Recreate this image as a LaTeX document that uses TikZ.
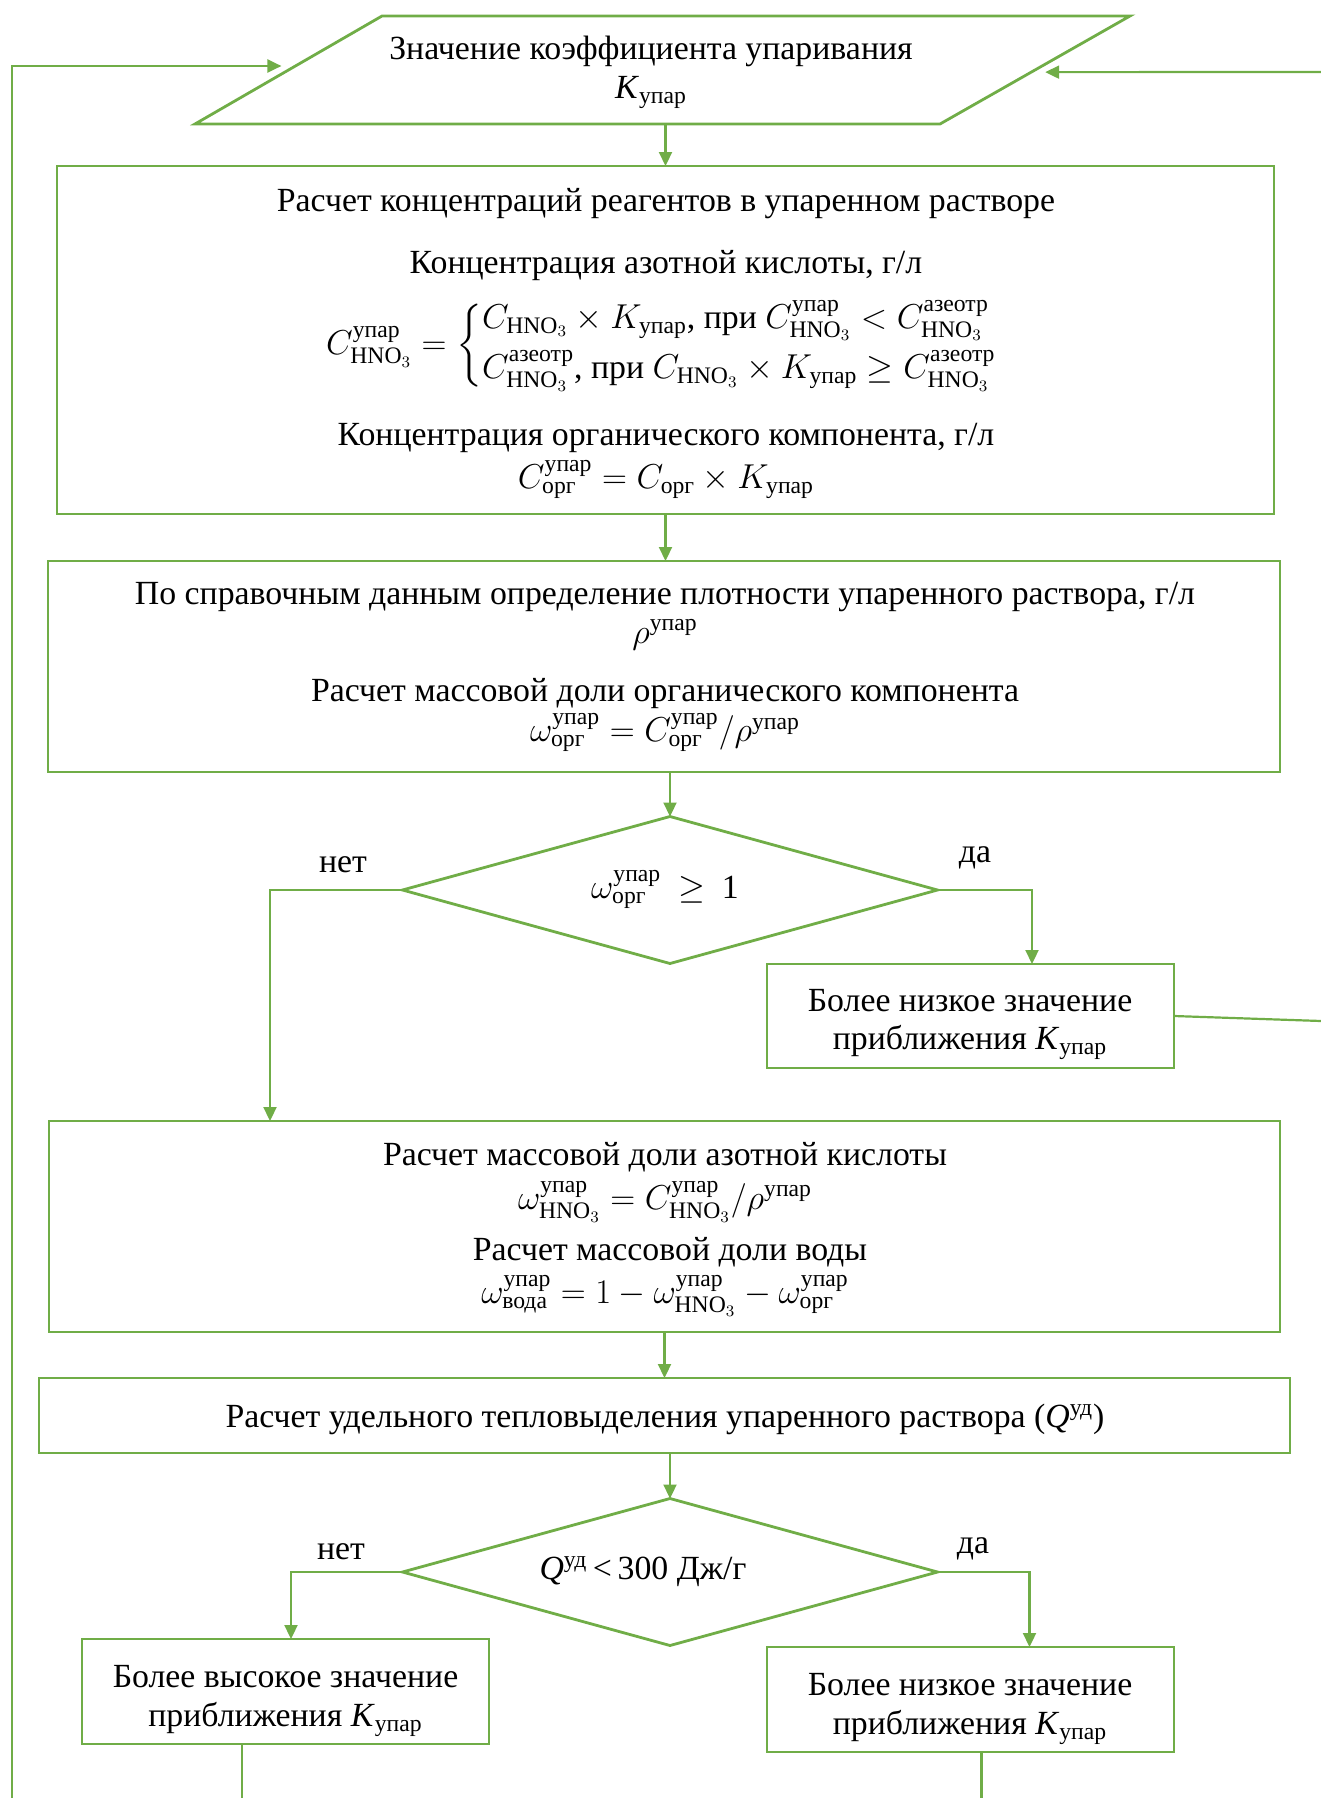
\documentclass[tikz,border=0pt]{standalone}
\usepackage{amsmath}
\usepackage{fontspec}
\setmainfont{Liberation Serif}
\usetikzlibrary{shapes.geometric,arrows.meta,calc}
\definecolor{gr}{HTML}{70AD47}
\newcommand\up{\text{упар}}
\newcommand\hno{\text{HNO}_3}
\newcommand\az{\text{азеотр}}
\newcommand\org{\text{орг}}
\newcommand\Kup{\textit{K}\textsubscript{упар}}
\tikzset{
  box/.style={draw=gr, line width=1.4pt, rectangle, inner sep=0pt, outer sep=0pt},
  dia/.style={draw=gr, line width=1.4pt, diamond, inner sep=0pt, outer sep=0pt, minimum width=267.5pt, minimum height=73.5pt},
  arr/.style={draw=gr, line width=1.1pt, -{Triangle[length=7pt,width=6.5pt]}},
  conn/.style={draw=gr, line width=1.1pt},
  txt/.style={inner sep=0pt, align=center, yshift=-1.8pt},
}
\begin{document}
\begin{tikzpicture}[x=0.5pt,y=-0.5pt,font=\fontsize{16.9pt}{20.3pt}\selectfont]
\useasboundingbox (0,0) rectangle (1321,1798);
% input parallelogram
\coordinate (pBL) at (195,124);
\coordinate (pBR) at (940,124);
\coordinate (pTR) at (1130,16);
\coordinate (pTL) at (382,16);
\draw[gr, line width=1.4pt, line join=miter] (pBL) -- (pBR) -- (pTR) -- (pTL) -- cycle;
\node[txt] (t0a) at (651,48) {Значение коэффициента упаривания};
\node[txt] (t0b) at (651,89) {\Kup};

% box 1
\node[box, minimum width=608.5pt, minimum height=174pt] (box1) at (665.5,340) {};
\node[txt] (b1t1) at (666,199.5) {Расчет концентраций реагентов в упаренном растворе};
\node[txt] (b1t2) at (666,262) {Концентрация азотной кислоты, г/л};
\node[txt] (b1e1) at (662,342) {$C^{\up}_{\hno} = \left\{\begin{array}{@{}l@{}}
  C_{\hno}\times K_{\up}\text{, при } C^{\up}_{\hno} < C^{\az}_{\hno}\\[5pt]
  C^{\az}_{\hno}\text{, при } C_{\hno}\times K_{\up} \geq C^{\az}_{\hno}
  \end{array}\right.$};
\node[txt] (b1t3) at (666,434.6) {Концентрация органического компонента, г/л};
\node[txt] (b1e2) at (666,476) {$C^{\up}_{\org} = C_{\org}\times K_{\up}$};

% box 2
\node[box, minimum width=616pt, minimum height=105.5pt] (box2) at (664,666.5) {};
\node[txt] (b2t1) at (665,593) {По справочным данным определение плотности упаренного раствора, г/л};
\node[txt] (b2t2) at (665,631) {$\rho^{\up}$};
\node[txt] (b2t3) at (665,690) {Расчет массовой доли органического компонента};
\node[txt] (b2e1) at (665,729) {$\omega^{\up}_{\org} = C^{\up}_{\org}/\rho^{\up}$};

% decision 1
\node[dia] (d1) at (670,890) {};
\node[txt] (d1t) at (665,886) {$\omega^{\up}_{\org}$ \ $\geq$ \ 1};
\node[txt] (n1) at (343,861) {нет};
\node[txt] (y1) at (975,854) {да};

% box 4
\node[box, minimum width=203.5pt, minimum height=52pt] (box4) at (970.5,1016) {};
\node[txt] (b4t1) at (970,996.5) {Более низкое значение};
\node[txt] (b4t2) at (970,1039) {приближения \Kup};

% box 3
\node[box, minimum width=615.5pt, minimum height=105.5pt] (box3) at (664.5,1226.5) {};
\node[txt] (b3t1) at (665,1153.5) {Расчет массовой доли азотной кислоты};
\node[txt] (b3e1) at (665,1198) {$\omega^{\up}_{\hno} = C^{\up}_{\hno}/\rho^{\up}$};
\node[txt] (b3t2) at (670,1249) {Расчет массовой доли воды};
\node[txt] (b3e2) at (665,1292) {$\omega^{\up}_{\text{вода}} = 1 - \omega^{\up}_{\hno} - \omega^{\up}_{\org}$};

% box 5
\node[box, minimum width=625.5pt, minimum height=37.5pt] (box5) at (664.5,1415.5) {};
\node[txt] (b5t) at (665,1416) {Расчет удельного тепловыделения упаренного раствора (\textit{Q}\textsuperscript{уд})};

% decision 2
\node[dia] (d2) at (670,1572) {};
\node[txt] (d2t) at (643,1568) {\textit{Q}\textsuperscript{уд}\,<\,300 Дж/г};
\node[txt] (n2) at (341,1548) {нет};
\node[txt] (y2) at (973,1545) {да};

% box 6 and 7
\node[box, minimum width=203.5pt, minimum height=52.5pt] (box6) at (285.5,1691.5) {};
\node[txt] (b6t1) at (285.5,1673) {Более высокое значение};
\node[txt] (b6t2) at (285.5,1715.5) {приближения \Kup};
\node[box, minimum width=203.5pt, minimum height=52.5pt] (box7) at (970.5,1699.5) {};
\node[txt] (b7t1) at (970,1681) {Более низкое значение};
\node[txt] (b7t2) at (970,1723.5) {приближения \Kup};

% free ends
\coordinate (lBot) at (12,1798);
\coordinate (rTop) at (1321,72);
\coordinate (rMid) at (1321,1021);
\coordinate (b6end) at (242,1798);
\coordinate (b7end) at (981.5,1798);
\coordinate (inL) at ($(pBL)!0.537!(pTL)$);
\coordinate (inR) at ($(pBR)!0.48!(pTR)$);

% connectors
\draw[arr] (pBL -| box1.north) -- (box1.north);
\draw[arr] (box1.south) -- (box1.south |- box2.north);
\draw[arr] (d1.north |- box2.south) -- (d1.north);
\draw[arr] (d1.west) -| ([xshift=110.5pt]box3.north west);
\draw[arr] (d1.east) -| ([xshift=30.75pt]box4.north);
\draw[conn] (box4.east) -- (rMid);
\draw[arr, shorten >=7pt] (rTop) -- (inR);
\draw[arr, shorten >=7pt] (lBot) |- (inL);
\draw[arr] (box3.south) -- (box3.south |- box5.north);
\draw[arr] (d2.north |- box5.south) -- (d2.north);
\draw[arr] (d2.west) -| ([xshift=2.75pt]box6.north);
\draw[arr] (d2.east) -| ([xshift=29.5pt]box7.north);
\draw[conn] (b6end |- box6.south) -- (b6end);
\draw[conn] (b7end |- box7.south) -- (b7end);
\end{tikzpicture}
\end{document}
